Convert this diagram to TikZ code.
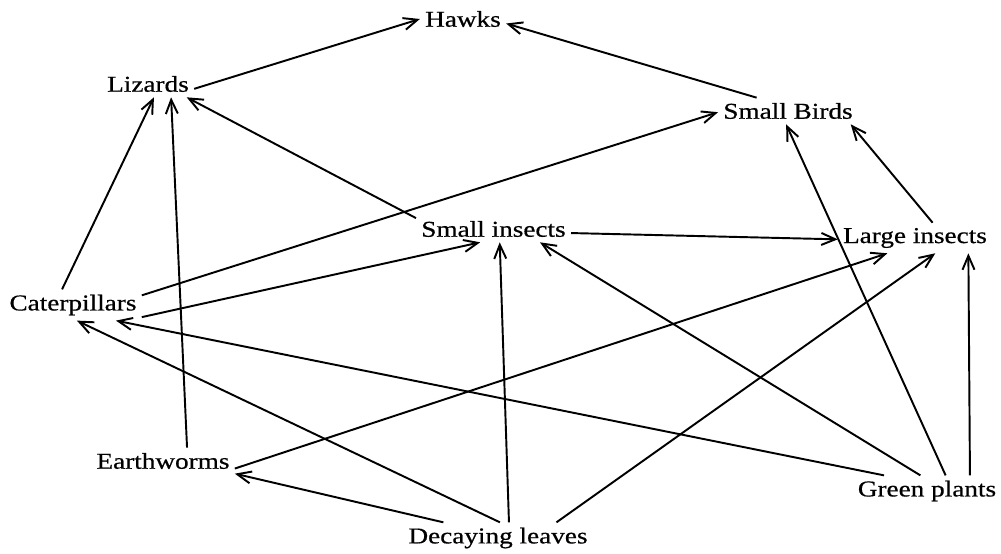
\documentclass[tikz,border=0pt]{standalone}
\usepackage{fontspec}
\setmainfont{Liberation Serif}[FakeStretch=1.2,FakeBold=0.6]
\usepackage{tikz}
\usetikzlibrary{arrows.meta}
\tikzset{
    organism/.style={rectangle,draw=none,inner sep=1mm,font=\fontsize{12.9}{15}\selectfont},
    every node/.style={organism},
    eats/.style={arrows={-Straight Barb[length=2.8mm,width=2.4mm]},line width=1.1pt},
    }
\begin{document}
\begin{tikzpicture}[x=0.2mm,y=-0.2mm]
    \useasboundingbox (0,0) rectangle (1001,554);
		\node (hawks) at (463,19) {Hawks};
		\node (liz) at (148,84) {Lizards};
		\node (birds) at (788,111) {Small Birds};
		\node (sins) at (493.5,229) {Small insects};
		\node (lins) at (915,238) {Large insects};
		\node (cat) at (73,305) {Caterpillars};
		\node (worm) at (163,461) {Earthworms};
		\node (leaves) at (498,538) {Decaying leaves};
		\node (plants) at (927,491) {Green plants};

	\draw[eats] (liz.-6) to (hawks.west);
	\draw[eats] (birds.157) to (hawks.-6);
        \draw[eats] (sins.172) to (liz.-19);
        \draw[eats] (cat.125) to (liz.-66);
        \draw[eats] (worm.29) to (liz.-30);
        \draw[eats] (cat.8) to (birds.181);
        \draw[eats] (cat.-10) to (sins.-135);
        \draw[eats] (sins.-3) to (lins.181);
        \draw[eats] (lins.41) to (birds.-12);
        \draw[eats] (plants.40) to (birds.262);
        \draw[eats] (plants.20) to (lins.-16);
        \draw[eats] (plants.113) to (sins.-16);
        \draw[eats] (plants.160) to (cat.-20);
        \draw[eats] (worm.-6) to (lins.209);
        \draw[eats] (leaves.15) to (lins.-37);
        \draw[eats] (leaves.55) to (sins.-65);
        \draw[eats] (leaves.83) to (cat.-76);
        \draw[eats] (leaves.164) to (worm.-10);
    \end{tikzpicture}
\end{document}
